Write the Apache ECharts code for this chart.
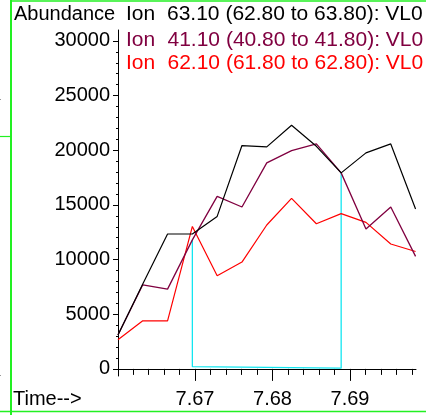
<!DOCTYPE html>
<html><head><meta charset="utf-8">
<script src="https://cdn.jsdelivr.net/npm/echarts@6/dist/echarts.min.js"></script>
<style>html,body{margin:0;padding:0;background:#fff}#c{width:426px;height:415px}</style>
</head><body><div id="c"></div>
<script>
// ---- data ----
const times  = [7.66006,7.66326,7.66646,7.66966,7.67286,7.67606,7.67926,7.68246,7.68566,7.68886,7.69206,7.69526,7.69846];
const ion63  = [3100,7760,12340,12340,13950,20430,20310,22290,20360,17930,19760,20580,14630];
const ion41  = [3100,7690,7300,11800,15780,14810,18840,19970,20580,17930,12800,14810,10290];
const ion62  = [2660,4400,4400,13030,8520,9770,13160,15600,13280,14200,13400,11420,10740];
const baselineTimes  = [7.66966,7.66966,7.68886,7.68886];
const baselineValues = [11800,200,70,17930];
const ionLabels = ['Ion', 'Ion', 'Ion'];
const ionRanges = ['63.10 (62.80 to 63.80): VL0','41.10 (40.80 to 41.80): VL0','62.10 (61.80 to 62.80): VL0'];
const peakIndex = 7;
const xMajorTicks = [7.67,7.68,7.69];
const xMinorTicks = [7.662,7.664,7.666,7.668,7.672,7.674,7.676,7.678,7.682,7.684,7.686,7.688,7.692,7.694,7.696,7.698];
const yMajorTicks = [0,5000,10000,15000,20000,25000,30000];
const yMinorTicks = [1000,2000,3000,4000,6000,7000,8000,9000,11000,12000,13000,14000,16000,17000,18000,19000,21000,22000,23000,24000,26000,27000,28000,29000];
const yAxisTitle = 'Abundance';
const xAxisTitle = 'Time-->';

// ---- chart ----
const FONT = '"Liberation Sans", Arial, sans-serif';
const FS = 20;
const LFS = 21;
const colors = ['#000000', '#800040', '#ff0000'];
const cyan = '#12e6f0';
const green = '#22f022';
const XMIN = 7.660065, XMAX = 7.698516, YMIN = -650, YMAX = 31000;
const legendTops = [3.5, 29.5, 52.5];

function pairs(xs, ys){ return xs.map((x,i)=>[x, ys[i]]); }

const blackData = pairs(times, ion63).map((p,i)=> i===peakIndex ? {
  value: p,
  label: {show:true, position:'top', offset:[10,3], formatter: () => p[0].toFixed(2),
          color:'#000', fontSize: FS, fontFamily: FONT}
} : p);

const legendGraphics = [];
ionLabels.forEach((t,i)=>{
  legendGraphics.push({type:'text', left:126, top:legendTops[i], style:{text:t, fontSize:LFS, fontFamily:FONT, fill:colors[i]}});
  legendGraphics.push({type:'text', left:167 + (i>0 ? 0.5 : 0), top:legendTops[i], style:{text:ionRanges[i], fontSize:LFS, fontFamily:FONT, fill:colors[i]}});
});

const chart = echarts.init(document.getElementById('c'), null, {renderer:'canvas'});
const axisBase = {
  type:'value', splitLine:{show:false},
  axisLine:{show:true, lineStyle:{color:'#000', width:1}}
};
const option = {
  animation:false,
  backgroundColor:'#fff',
  textStyle:{fontFamily:FONT},
  grid:{left:118, right:10, top:30, bottom:39, containLabel:false},
  xAxis:[
    Object.assign({}, axisBase, {min:XMIN, max:XMAX, position:'bottom',
      axisTick:{show:true, customValues:xMajorTicks, length:12, inside:false, lineStyle:{color:'#000'}},
      axisLabel:{show:true, customValues:xMajorTicks, formatter:v=>v.toFixed(2), color:'#000', fontSize:FS, fontFamily:FONT, margin:13}
    }),
    Object.assign({}, axisBase, {min:XMIN, max:XMAX, position:'bottom', axisLine:{show:false},
      axisTick:{show:true, customValues:xMinorTicks, length:6, inside:false, lineStyle:{color:'#000'}},
      axisLabel:{show:false}
    })
  ],
  yAxis:[
    Object.assign({}, axisBase, {min:YMIN, max:YMAX, position:'left',
      axisTick:{show:true, customValues:yMajorTicks, length:5, inside:false, lineStyle:{color:'#000'}},
      axisLabel:{show:true, customValues:yMajorTicks, formatter:v=>String(v), color:'#000', fontSize:FS, fontFamily:FONT, margin:8}
    }),
    Object.assign({}, axisBase, {min:YMIN, max:YMAX, position:'left', axisLine:{show:false},
      axisTick:{show:true, customValues:yMinorTicks, length:2, inside:false, lineStyle:{color:'#000'}},
      axisLabel:{show:false}
    })
  ],
  series:[
    {type:'line', name: ionLabels[0]+'  '+ionRanges[0], data: blackData, showSymbol:false, symbol:'none',
     lineStyle:{color:colors[0], width:1.2}, itemStyle:{color:colors[0]}, z:4},
    {type:'line', name: ionLabels[1]+'  '+ionRanges[1], data: pairs(times, ion41), showSymbol:false, symbol:'none',
     lineStyle:{color:colors[1], width:1.3}, z:3},
    {type:'line', name: ionLabels[2]+'  '+ionRanges[2], data: pairs(times, ion62), showSymbol:false, symbol:'none',
     lineStyle:{color:colors[2], width:1.2}, z:2},
    {type:'line', name:'baseline', data: pairs(baselineTimes, baselineValues), showSymbol:false, symbol:'none',
     lineStyle:{color:cyan, width:1.3}, z:1}
  ],
  graphic:[
    {type:'text', left:14, top:4, style:{text:yAxisTitle, fontSize:FS, fontFamily:FONT, fill:'#000'}},
    {type:'text', left:13, top:389, style:{text:xAxisTitle, fontSize:FS, fontFamily:FONT, fill:'#000'}},
    ...legendGraphics,
    {type:'line', shape:{x1:11, y1:0, x2:11, y2:415}, style:{stroke:green, lineWidth:2}, silent:true},
    {type:'line', shape:{x1:11, y1:1, x2:426, y2:1}, style:{stroke:green, lineWidth:1.5}, silent:true},
    {type:'line', shape:{x1:0, y1:411.5, x2:426, y2:411.5}, style:{stroke:green, lineWidth:1.5}, silent:true},
    {type:'line', shape:{x1:0, y1:136.5, x2:10, y2:136.5}, style:{stroke:green, lineWidth:1.2}, silent:true},
    {type:'rect', shape:{x:0, y:99, width:1, height:1}, style:{fill:'#999'}, silent:true},
    {type:'rect', shape:{x:0, y:375, width:1, height:1}, style:{fill:'#999'}, silent:true}
  ]
};
chart.setOption(option);
</script></body></html>
